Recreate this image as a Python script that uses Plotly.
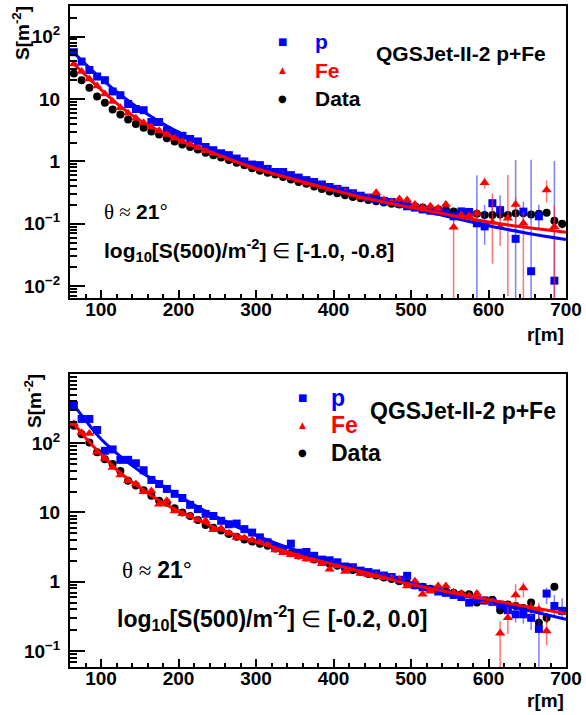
import plotly.graph_objects as go

# Lateral distribution S(r) of shower signals, QGSJet-II-2 p / Fe vs data
# two panels: log10[S(500)] in [-1.0, -0.8] (top) and [-0.2, 0.0] (bottom)

# radial bin centres in m, same for every series
r_bins = list(range(65, 700, 10))

# ── top panel values (S in m^-2) ─────────────────────────────────────────────
data_top = [25.7, 20.0, 15.1, 11.0, 8.71, 6.76, 5.62, 4.68, 3.98, 3.47,
            3.02, 2.69, 2.34, 2.09, 1.86, 1.70, 1.55, 1.38, 1.26, 1.15,
            1.05, 0.955, 0.871, 0.776, 0.708, 0.661, 0.617, 0.562, 0.513, 0.468,
            0.437, 0.398, 0.363, 0.331, 0.309, 0.288, 0.269, 0.257, 0.240, 0.229,
            0.219, 0.209, 0.204, 0.195, 0.191, 0.182, 0.174, 0.170, 0.166, 0.158,
            0.155, 0.151, 0.145, 0.138, 0.138, 0.141, 0.138, 0.148, 0.148, 0.141,
            0.145, 0.151, 0.112, 0.100]
fe_top = [36.3, 27.5, 20.9, 16.2, 12.0, 9.12, 7.24, 5.89, 4.90, 4.17,
          3.55, 3.09, 2.69, 2.34, 2.09, 1.86, 1.66, 1.48, 1.35, 1.23,
          1.12, 1.02, 0.933, 0.832, 0.759, 0.724, 0.646, 0.603, 0.550, 0.501,
          0.457, 0.427, 0.398, 0.363, 0.347, 0.324, 0.295, 0.269, 0.257, 0.316,
          0.240, 0.224, 0.251, 0.240, 0.204, 0.182, 0.191, 0.178, 0.204, 0.088,
          0.138, 0.135, 0.148, 0.457, 0.106, 0.090, 0.123, 0.204, 0.102, None,
          None, 0.347, 0.090, None]
p_top = [56.2, 39.8, 29.2, 22.9, 20.0, 13.2, 11.5, 8.32, 6.92, 6.61,
         4.27, 4.27, 3.16, 2.75, 2.57, 2.29, 2.09, 1.70, 1.51, 1.35,
         1.26, 1.11, 1.00, 0.891, 0.871, 0.759, 0.676, 0.676, 0.603, 0.550,
         0.501, 0.468, 0.427, 0.389, 0.363, 0.339, 0.309, 0.282, 0.263, 0.251,
         0.234, 0.224, 0.209, 0.191, 0.182, 0.170, 0.162, 0.158, 0.151, 0.132,
         0.158, 0.155, 0.102, 0.091, 0.214, 0.166, None, 0.0575, 0.157, 0.0174,
         0.132, None, 0.0123, None]

# error bars (plus, minus) only where they are visible
data_top_err = {605: (0.01, 0.01), 625: (0.01, 0.01), 645: (0.012, 0.012),
                665: (0.012, 0.012), 685: (0.015, 0.015), 695: (0.015, 0.015)}
fe_top_err = {455: (0.03, 0.03), 465: (0.02, 0.02), 475: (0.02, 0.02),
              485: (0.025, 0.025), 495: (0.025, 0.025), 505: (0.02, 0.02),
              515: (0.02, 0.02), 525: (0.02, 0.02), 535: (0.02, 0.02),
              545: (0.025, 0.025), 555: (0.027, 0.085), 565: (0.02, 0.02),
              575: (0.02, 0.02), 585: (0.025, 0.025), 595: (0.10, 0.09),
              605: (0.20, 0.083), 615: (0.11, 0.046), 625: (0.48, 0.116),
              635: (0.066, 0.12), 645: (0.056, 0.099), 675: (0.15, 0.127),
              685: (0.11, 0.087)}
p_top_err = {455: (0.02, 0.02), 465: (0.02, 0.02), 475: (0.02, 0.02),
             485: (0.03, 0.03), 495: (0.025, 0.025), 505: (0.02, 0.02),
             515: (0.02, 0.02), 525: (0.02, 0.02), 535: (0.02, 0.02),
             545: (0.02, 0.02), 555: (0.025, 0.025), 565: (0.025, 0.025),
             575: (0.025, 0.025), 585: (0.50, 0.099), 595: (0.11, 0.045),
             605: (0.04, 0.057), 615: (0.12, 0.051), 635: (1.0, 0.0545),
             645: (0.07, 0.05), 655: (1.05, 0.0144), 665: (0.07, 0.047),
             685: (1.0, 0.0093)}

# fitted curves, sampled along r
fit_r = [65, 80, 100, 125, 150, 175, 200, 250, 300, 350, 400, 450, 500, 550, 600, 650, 700]
fe_fit_top = [36.3, 24.0, 14.1, 7.59, 4.57, 3.09, 2.24, 1.29, 0.759, 0.513,
              0.347, 0.245, 0.182, 0.138, 0.107, 0.0871, 0.0733]
p_fit_top = [55.0, 36.3, 21.4, 11.7, 6.92, 4.37, 2.95, 1.45, 0.871, 0.562,
             0.372, 0.257, 0.182, 0.129, 0.0933, 0.0708, 0.0562]

# ── bottom panel values ──────────────────────────────────────────────────────
data_bot = [178, 135, 102, 74.1, 58.9, 50.1, 39.8, 28.8, 24.5, 20.9,
            17.4, 14.8, 13.8, 11.5, 10.0, 8.91, 7.76, 6.61, 6.03, 5.50,
            4.90, 4.47, 4.07, 3.80, 3.55, 3.31, 3.02, 2.82, 2.57, 2.40,
            2.24, 2.09, 1.95, 1.82, 1.70, 1.58, 1.48, 1.38, 1.29, 1.23,
            1.15, 1.10, 1.02, 0.955, 0.891, 0.851, 0.794, 0.759, 0.724, 0.692,
            0.661, 0.661, 0.501, 0.537, 0.550, 0.389, 0.468, 0.447, 0.417, 0.501,
            0.257, 0.302, 0.851, None]
fe_bot = [191, 141, 138, 74.1, 60.3, 44.7, 34.7, 28.8, 25.7, 20.0,
          20.4, 13.2, 14.8, 10.5, 9.55, 8.91, 7.76, 7.59, 5.62, 5.89,
          5.01, 4.37, 4.27, 3.98, 3.72, 3.47, 2.88, 2.63, 2.45, 2.29,
          2.14, 2.04, 1.82, 1.51, 1.70, 1.41, 1.51, 1.32, 1.26, 1.22,
          1.15, 1.12, 1.07, 0.871, 1.02, 0.661, 0.741, 0.871, 0.871, 0.708,
          0.676, 0.631, 0.676, 0.537, 0.513, 0.180, 0.302, 0.646, 0.813, 0.417,
          0.398, 0.195, None, None]
p_bot = [355, 224, 224, 155, 77.6, 81.3, 57.5, 57.5, 51.3, 40.7,
         29.5, 25.7, 21.9, 18.6, 16.2, 12.9, 11.2, 9.55, 8.91, 7.59,
         6.76, 6.92, 5.75, 5.13, 4.37, 3.72, 3.16, 2.95, 3.55, 2.63,
         2.69, 2.37, 2.09, 2.04, 1.91, 1.66, 1.62, 1.45, 1.38, 1.32,
         1.23, 1.17, 1.07, 1.22, 0.891, 0.832, 0.776, 0.724, 0.692, 0.646,
         0.603, 0.501, 0.550, 0.537, 0.513, 0.468, 0.389, 0.339, 0.339, 0.302,
         0.209, 0.676, 0.447, 0.380]

data_bot_err = {615: (0.05, 0.05), 645: (0.05, 0.05), 665: (0.04, 0.04),
                675: (0.05, 0.05), 685: (0.1, 0.1)}
fe_bot_err = {555: (0.05, 0.05), 565: (0.05, 0.05), 575: (0.05, 0.05),
              585: (0.06, 0.06), 595: (0.06, 0.06), 605: (0.06, 0.06),
              615: (0.09, 0.177), 625: (0.18, 0.126), 635: (0.28, 0.20),
              645: (0.17, 0.22), 655: (0.1, 0.1), 665: (0.1, 0.1),
              675: (0.115, 0.075)}
p_bot_err = {565: (0.05, 0.05), 575: (0.06, 0.06), 585: (0.06, 0.06),
             595: (0.06, 0.06), 605: (0.07, 0.07), 615: (0.07, 0.07),
             625: (0.08, 0.08), 635: (0.08, 0.08), 645: (0.09, 0.09),
             655: (0.1, 0.1), 665: (0.13, 0.206), 675: (0.15, 0.2),
             685: (0.2, 0.12), 695: (0.2, 0.1)}

fe_fit_bot = [191, 120, 69.2, 37.2, 22.9, 14.8, 10.5, 5.89, 3.80, 2.51,
              1.78, 1.29, 0.912, 0.708, 0.550, 0.437, 0.347]
p_fit_bot = [355, 214, 115, 64.6, 39.8, 26.3, 17.4, 8.51, 4.68, 2.88,
             1.91, 1.32, 0.955, 0.708, 0.525, 0.389, 0.288]

# ── styling ───────────────────────────────────────────────────────────────────
SANS = "Liberation Sans, Arial, sans-serif"
BLUE, RED = "#0000ff", "#ff0000"


def err_arrays(err):
    plus = [err.get(r, (0, 0))[0] for r in r_bins]
    minus = [err.get(r, (0, 0))[1] for r in r_bins]
    return plus, minus


def add_points(fig, y, err, color, bar_color, symbol, size, xa, ya):
    plus, minus = err_arrays(err)
    fig.add_trace(go.Scatter(
        x=r_bins, y=y, mode="markers", xaxis=xa, yaxis=ya, showlegend=False,
        marker=dict(symbol=symbol, size=size, color=color, line=dict(width=0)),
        error_y=dict(type="data", symmetric=False, array=plus, arrayminus=minus,
                     color=bar_color, thickness=1.5, width=0),
    ))


def add_fit(fig, y, color, xa, ya):
    fig.add_trace(go.Scatter(
        x=fit_r, y=y, mode="lines", xaxis=xa, yaxis=ya, showlegend=False,
        line=dict(color=color, width=3, shape="spline"),
    ))


fig = go.Figure()
panels = [
    ("x", "y", data_top, data_top_err, p_top, p_top_err, fe_top, fe_top_err, p_fit_top, fe_fit_top),
    ("x2", "y2", data_bot, data_bot_err, p_bot, p_bot_err, fe_bot, fe_bot_err, p_fit_bot, fe_fit_bot),
]
for xa, ya, d, de, p, pe, fe, fee, pf, fef in panels:
    add_points(fig, d, de, "black", "black", "circle", 8, xa, ya)
    add_points(fig, p, pe, BLUE, "rgba(40,40,255,0.6)", "square", 8, xa, ya)
    add_points(fig, fe, fee, RED, "rgba(255,40,40,0.65)", "triangle-up", 9, xa, ya)
    add_fit(fig, pf, BLUE, xa, ya)
    add_fit(fig, fef, RED, xa, ya)

tick_font = dict(family=SANS, size=19, color="black", weight="bold")
x_major = [100, 200, 300, 400, 500, 600, 700]
x_minor = [v for v in range(80, 700, 20) if v % 100]


def x_axis(anchor):
    return dict(
        domain=[0, 1], anchor=anchor, range=[60, 700],
        showline=True, linecolor="black", linewidth=2, mirror=True,
        showgrid=False, zeroline=False,
        ticks="inside", ticklen=8, tickwidth=1.5, tickcolor="black",
        tickmode="array", tickvals=x_major, tickfont=tick_font,
        ticklabelstandoff=-7,
        minor=dict(ticks="inside", ticklen=4, tickwidth=1.5, tickcolor="black",
                   tickmode="array", tickvals=x_minor),
    )


def y_axis(anchor, domain, rng, exps):
    labels = {-2: "10<sup>−2</sup>", -1: "10<sup>−1</sup>", 0: "1", 1: "10",
              2: "10<sup>2</sup>", 3: "10<sup>3</sup>"}
    lo, hi = rng
    shown = [e for e in exps if lo <= e <= hi]
    minor = [m * 10 ** e for e in range(-3, 4) for m in range(2, 10)]
    return dict(
        domain=domain, anchor=anchor, type="log", range=list(rng),
        showline=True, linecolor="black", linewidth=2, mirror=True,
        showgrid=False, zeroline=False,
        ticks="inside", ticklen=15, tickwidth=1.5, tickcolor="black",
        tickmode="array", tickvals=[10 ** e for e in shown],
        ticktext=[labels[e] for e in shown], tickfont=tick_font,
        ticklabelstandoff=4,
        minor=dict(ticks="inside", ticklen=7, tickwidth=1.5, tickcolor="black",
                   tickmode="array", tickvals=minor),
    )


# pixel -> paper helpers for the 586x715 canvas (plot area x 70..567, y 4..667)
def px(xp):
    return (xp - 70) / 497


def py(yp):
    return (667 - yp) / 663


def note(text, x, y, size, color="black", xanchor="left", angle=0, font=SANS):
    return dict(text=text, x=px(x), y=py(y), xref="paper", yref="paper",
                xanchor=xanchor, yanchor="middle", showarrow=False, textangle=angle,
                font=dict(family=font, size=size, color=color))


serif = '<span style="font-family:Liberation Serif, serif">{}</span>'
annotations = []
for (y_title_x, y_title_y, rm_y, mark_x, text_x, leg_y, qgs, theta, logtxt, fs, rng) in [
    (21, 31, 333, 283, 313, (40, 68.5, 97), (462, 52), (102, 211), (102, 249), 21,
     "[-1.0, -0.8]"),
    (33, 400, 701, 303, 330, (397, 424.5, 452), (464, 410), (120, 570), (115, 618), 23,
     "[-0.2, 0.0]"),
]:
    annotations.append(note("<b>S[m<sup>-2</sup>]</b>", y_title_x, y_title_y, 19,
                            xanchor="center", angle=-90))
    annotations.append(note("<b>r[m]</b>", 567, rm_y, 19, xanchor="right"))
    for sym, label, color, yy, ssize in [("■", "p", BLUE, leg_y[0], 10),
                                         ("▲", "Fe", RED, leg_y[1], 9),
                                         ("●", "Data", "black", leg_y[2], 10)]:
        annotations.append(note(sym, mark_x, yy, ssize, color=color, xanchor="center",
                                font="DejaVu Sans"))
        annotations.append(note("<b>" + label + "</b>", text_x, yy, fs, color=color))
    annotations.append(note("<b>QGSJet-II-2 p+Fe</b>", qgs[0], qgs[1], fs, xanchor="center"))
    annotations.append(note(serif.format("θ ≈ ") + "<b>21</b>°", theta[0], theta[1], fs))
    annotations.append(note("<b>log<sub>10</sub>[S(500)/m<sup>-2</sup>]</b> "
                            + serif.format("∈") + " <b>" + rng + "</b>",
                            logtxt[0], logtxt[1], fs))

fig.update_layout(
    width=586, height=715,
    margin=dict(l=70, r=19, t=4, b=48),
    paper_bgcolor="white", plot_bgcolor="white",
    font=dict(family=SANS, color="black"),
    showlegend=False,
    xaxis=x_axis("y"),
    yaxis=y_axis("x", [0.5581, 1.0], (-2.19, 2.49), [-2, -1, 0, 1, 2]),
    xaxis2=x_axis("y2"),
    yaxis2=y_axis("x2", [0.0, 0.4434], (-1.23, 3.0), [-1, 0, 1, 2]),
    annotations=annotations,
)

# the page body has a default 8px margin; drop it so the canvas sits at 0,0
fig.write_html("out.html", config={"displayModeBar": False},
               post_script="document.body.style.margin = '0';")
